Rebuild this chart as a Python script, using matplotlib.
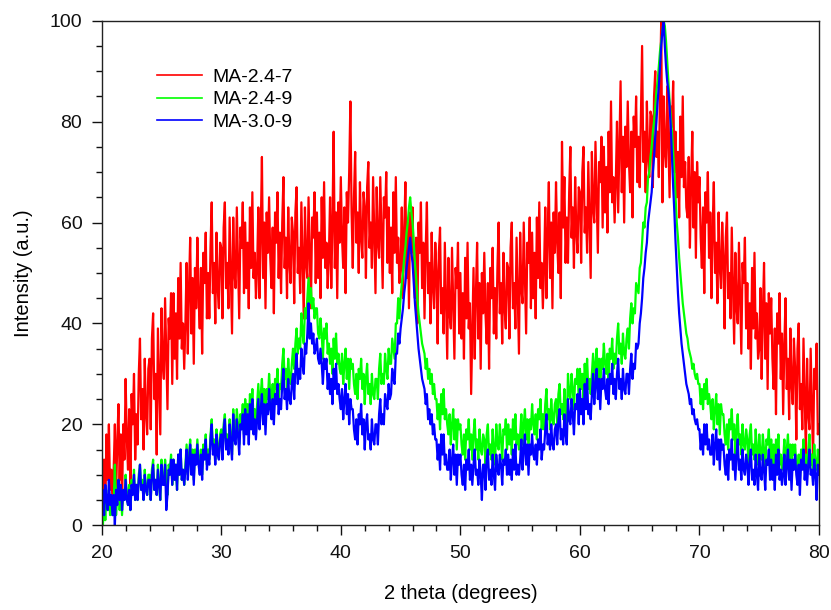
import numpy as np
import matplotlib
matplotlib.use('Agg')
import matplotlib.pyplot as plt
from matplotlib.ticker import MultipleLocator

plt.rcParams['font.family'] = ['Liberation Sans', 'DejaVu Sans']

# 2 theta grid, 0.1 deg step
two_theta = np.linspace(20, 80, 601)

labels = ['MA-2.4-7', 'MA-2.4-9', 'MA-3.0-9']
colors = ['#ff0000', '#00ff00', '#0000ff']

# intensities (one row per degree, 10 points each)
ma_24_7 = [
    15, 6, 13, 3, 18, 9, 20, 7, 11, 5,
    11, 20, 6, 16, 24, 9, 18, 4, 20, 13,
    29, 17, 11, 23, 8, 26, 20, 30, 13, 22,
    16, 30, 37, 21, 27, 15, 33, 22, 18, 31,
    33, 19, 37, 42, 25, 30, 14, 39, 28, 18,
    43, 32, 29, 45, 34, 23, 41, 37, 46, 28,
    46, 33, 42, 29, 49, 37, 52, 35, 40, 31,
    40, 52, 34, 47, 57, 38, 49, 32, 51, 43,
    57, 45, 39, 51, 34, 54, 48, 58, 41, 50,
    41, 55, 64, 46, 52, 40, 58, 47, 43, 56,
    55, 41, 59, 64, 47, 52, 43, 61, 50, 38,
    61, 50, 47, 63, 52, 41, 59, 55, 64, 46,
    60, 47, 56, 43, 63, 51, 66, 49, 54, 45,
    51, 63, 45, 58, 73, 49, 60, 43, 62, 54,
    65, 53, 47, 59, 42, 62, 56, 66, 49, 58,
    46, 60, 69, 51, 57, 45, 63, 52, 48, 61,
    58, 44, 62, 67, 50, 55, 46, 64, 53, 41,
    63, 52, 49, 65, 54, 43, 61, 57, 66, 48,
    62, 49, 58, 45, 65, 53, 68, 51, 56, 47,
    53, 65, 47, 60, 78, 51, 62, 45, 64, 56,
    69, 57, 51, 63, 46, 66, 60, 70, 84, 62,
    51, 65, 74, 56, 62, 50, 68, 57, 53, 66,
    63, 49, 67, 72, 55, 60, 51, 69, 58, 46,
    67, 56, 53, 69, 58, 47, 65, 61, 70, 52,
    63, 50, 59, 46, 66, 54, 69, 52, 57, 48,
    51, 63, 45, 58, 68, 49, 60, 43, 62, 54,
    63, 51, 45, 57, 40, 60, 54, 64, 47, 56,
    41, 55, 64, 46, 52, 40, 58, 47, 43, 56,
    50, 36, 54, 59, 42, 47, 38, 56, 45, 33,
    53, 42, 39, 55, 44, 33, 51, 47, 56, 38,
    50, 37, 46, 33, 53, 41, 56, 39, 44, 26,
    39, 51, 33, 46, 56, 37, 48, 31, 50, 42,
    54, 42, 36, 48, 31, 51, 45, 55, 38, 47,
    37, 51, 60, 42, 48, 36, 54, 43, 39, 52,
    51, 37, 55, 60, 43, 48, 39, 57, 46, 34,
    58, 47, 44, 60, 49, 38, 56, 52, 61, 43,
    58, 45, 54, 41, 61, 49, 64, 47, 52, 43,
    51, 63, 45, 58, 68, 49, 60, 43, 62, 54,
    68, 56, 50, 62, 45, 76, 59, 69, 52, 61,
    52, 66, 75, 57, 63, 51, 69, 58, 54, 67,
    66, 52, 70, 75, 58, 63, 54, 72, 61, 49,
    74, 63, 60, 76, 65, 54, 72, 68, 77, 59,
    75, 62, 71, 58, 78, 66, 84, 64, 69, 60,
    68, 80, 62, 75, 88, 66, 77, 60, 79, 71,
    84, 72, 66, 78, 61, 81, 75, 85, 68, 77,
    67, 81, 95, 72, 78, 66, 84, 73, 69, 82,
    81, 67, 85, 90, 73, 78, 69, 87, 100, 64,
    85, 74, 71, 87, 76, 65, 83, 79, 88, 70,
    78, 65, 74, 61, 81, 69, 85, 67, 72, 63,
    61, 73, 55, 68, 78, 59, 70, 53, 72, 64,
    69, 57, 51, 63, 46, 66, 60, 70, 53, 62,
    45, 59, 68, 50, 56, 44, 62, 51, 47, 60,
    53, 39, 57, 62, 45, 50, 41, 59, 48, 36,
    54, 43, 40, 56, 45, 34, 52, 48, 57, 39,
    48, 35, 44, 31, 51, 39, 54, 37, 42, 33,
    35, 47, 29, 42, 52, 33, 44, 27, 46, 38,
    45, 33, 27, 39, 22, 42, 36, 46, 29, 38,
    22, 36, 45, 27, 33, 21, 39, 28, 24, 37,
    31, 17, 35, 40, 23, 28, 19, 37, 26, 14,
    33, 22, 19, 35, 24, 13, 31, 27, 36, 18,
    20,
]

ma_24_9 = [
    2, 0, 5, 1, 6, 3, 7, 2, 4, 2,
    4, 12, 2, 6, 9, 3, 7, 2, 7, 5,
    10, 6, 4, 8, 3, 9, 7, 11, 5, 8,
    5, 10, 12, 7, 9, 5, 11, 7, 6, 10,
    10, 5, 11, 13, 7, 9, 6, 12, 8, 5,
    13, 9, 8, 13, 10, 6, 12, 11, 14, 8,
    13, 9, 12, 7, 14, 10, 15, 9, 11, 8,
    12, 16, 10, 14, 17, 11, 15, 9, 15, 13,
    17, 13, 11, 15, 10, 16, 14, 18, 12, 15,
    13, 18, 21, 15, 17, 13, 19, 15, 14, 18,
    19, 14, 20, 22, 16, 18, 15, 21, 17, 14,
    23, 19, 18, 23, 20, 16, 22, 21, 24, 18,
    25, 21, 24, 19, 26, 22, 27, 21, 23, 20,
    24, 28, 22, 26, 29, 23, 27, 21, 27, 25,
    30, 26, 24, 28, 23, 29, 27, 31, 25, 28,
    27, 32, 35, 29, 31, 27, 33, 29, 28, 32,
    35, 31, 36, 39, 34, 37, 35, 42, 38, 36,
    43, 41, 45, 49, 44, 47, 43, 45, 41, 43,
    43, 38, 37, 41, 38, 33, 39, 37, 40, 34,
    36, 32, 35, 30, 37, 33, 38, 32, 34, 31,
    30, 34, 28, 32, 35, 29, 33, 27, 33, 31,
    32, 28, 26, 30, 25, 31, 29, 33, 27, 30,
    24, 29, 32, 26, 28, 24, 30, 26, 25, 29,
    29, 25, 31, 34, 28, 30, 28, 34, 31, 29,
    35, 32, 32, 37, 35, 33, 40, 40, 45, 41,
    45, 48, 50, 53, 55, 58, 60, 63, 65, 62,
    60, 56, 52, 49, 45, 42, 40, 38, 36, 35,
    34, 31, 33, 29, 31, 28, 30, 26, 28, 25,
    25, 21, 24, 19, 26, 22, 27, 21, 23, 20,
    18, 22, 16, 20, 23, 17, 21, 15, 21, 19,
    20, 16, 14, 18, 13, 19, 17, 21, 15, 18,
    13, 18, 21, 15, 17, 13, 19, 15, 14, 18,
    17, 12, 18, 20, 14, 16, 13, 19, 15, 12,
    20, 16, 15, 20, 17, 13, 19, 18, 21, 15,
    20, 16, 19, 14, 21, 17, 22, 16, 18, 15,
    18, 22, 16, 20, 23, 17, 21, 15, 21, 19,
    24, 20, 18, 22, 17, 23, 21, 25, 19, 22,
    19, 24, 27, 21, 23, 19, 25, 21, 20, 24,
    25, 20, 26, 28, 22, 24, 21, 27, 23, 20,
    30, 26, 25, 30, 27, 23, 29, 28, 31, 25,
    31, 27, 30, 25, 32, 28, 33, 27, 29, 26,
    30, 34, 28, 32, 35, 29, 33, 27, 33, 31,
    36, 32, 30, 34, 29, 35, 33, 37, 31, 34,
    32, 37, 40, 34, 36, 32, 38, 34, 33, 37,
    39, 35, 41, 44, 40, 43, 42, 48, 47, 46,
    51, 52, 56, 60, 59, 63, 64, 69, 70, 73,
    75, 78, 80, 83, 86, 88, 91, 94, 96, 98,
    100, 99, 96, 92, 88, 84, 81, 78, 74, 70,
    65, 60, 57, 53, 50, 47, 44, 42, 40, 38,
    37, 35, 34, 33, 31, 32, 30, 29, 30, 28,
    28, 24, 27, 23, 28, 25, 29, 24, 26, 24,
    21, 25, 19, 23, 26, 20, 24, 18, 24, 22,
    22, 18, 16, 20, 15, 21, 19, 23, 17, 20,
    14, 19, 22, 16, 18, 14, 20, 16, 15, 19,
    17, 12, 18, 20, 14, 16, 13, 19, 15, 12,
    18, 14, 13, 18, 15, 11, 17, 16, 19, 13,
    17, 12, 16, 11, 17, 13, 18, 12, 14, 11,
    13, 17, 11, 15, 18, 12, 16, 10, 16, 14,
    16, 12, 10, 14, 9, 15, 13, 17, 11, 14,
    10, 15, 18, 12, 14, 10, 16, 12, 11, 15,
    12,
]

ma_30_9 = [
    4, 7, 2, 8, 5, 3, 9, 4, 6, 2,
    6, 0, 7, 4, 9, 5, 8, 3, 7, 5,
    9, 5, 4, 7, 3, 8, 6, 10, 5, 8,
    5, 9, 12, 7, 8, 5, 10, 7, 6, 9,
    9, 5, 10, 12, 7, 9, 6, 11, 8, 5,
    12, 8, 8, 12, 3, 6, 11, 10, 13, 8,
    13, 9, 12, 7, 14, 10, 15, 9, 11, 8,
    11, 15, 9, 13, 16, 10, 14, 8, 14, 12,
    16, 12, 10, 14, 9, 15, 13, 17, 11, 14,
    12, 17, 20, 14, 16, 12, 18, 14, 13, 17,
    18, 13, 19, 21, 15, 17, 14, 20, 16, 13,
    22, 17, 16, 21, 18, 14, 20, 19, 22, 16,
    23, 18, 22, 16, 24, 19, 25, 18, 21, 17,
    21, 25, 19, 23, 26, 20, 24, 18, 24, 22,
    27, 23, 21, 25, 20, 26, 24, 28, 22, 25,
    23, 28, 31, 25, 27, 23, 29, 25, 24, 28,
    30, 25, 31, 34, 28, 31, 29, 35, 32, 30,
    36, 34, 38, 44, 37, 40, 36, 38, 34, 35,
    37, 33, 32, 35, 32, 28, 33, 31, 33, 27,
    30, 26, 29, 24, 31, 27, 32, 26, 28, 25,
    23, 27, 21, 25, 28, 22, 26, 20, 25, 23,
    23, 19, 17, 21, 16, 22, 20, 24, 18, 21,
    15, 20, 22, 17, 18, 15, 21, 17, 16, 20,
    20, 16, 22, 25, 20, 22, 20, 26, 24, 23,
    28, 25, 26, 31, 29, 28, 34, 34, 38, 36,
    39, 41, 43, 46, 48, 51, 53, 55, 57, 54,
    52, 48, 44, 41, 38, 35, 33, 31, 29, 28,
    27, 24, 26, 21, 23, 20, 22, 18, 20, 17,
    17, 13, 16, 11, 18, 14, 18, 12, 14, 11,
    11, 15, 9, 13, 16, 10, 14, 8, 14, 12,
    14, 10, 8, 12, 7, 13, 11, 15, 9, 12,
    8, 12, 15, 10, 11, 8, 13, 10, 5, 12,
    12, 7, 13, 15, 9, 11, 8, 14, 10, 7,
    14, 11, 10, 14, 12, 8, 13, 12, 15, 10,
    14, 10, 13, 9, 15, 11, 16, 10, 12, 10,
    13, 17, 11, 15, 18, 12, 16, 10, 16, 14,
    18, 14, 13, 16, 12, 17, 15, 19, 13, 16,
    15, 19, 22, 16, 18, 15, 20, 16, 15, 19,
    20, 16, 21, 23, 17, 19, 16, 22, 18, 16,
    25, 21, 20, 25, 22, 18, 24, 23, 26, 20,
    27, 22, 25, 20, 28, 23, 29, 22, 24, 21,
    26, 30, 24, 28, 31, 25, 29, 23, 29, 27,
    31, 27, 25, 29, 24, 30, 28, 32, 26, 29,
    25, 30, 33, 27, 29, 25, 31, 27, 26, 30,
    30, 26, 31, 34, 29, 32, 31, 36, 35, 36,
    40, 42, 45, 49, 51, 54, 56, 60, 62, 64,
    66, 70, 73, 77, 80, 84, 87, 91, 95, 98,
    100, 95, 91, 88, 86, 83, 79, 73, 67, 62,
    56, 51, 46, 42, 39, 36, 34, 32, 30, 28,
    27, 26, 24, 25, 22, 23, 21, 20, 21, 19,
    19, 15, 18, 14, 20, 16, 20, 15, 17, 14,
    14, 18, 12, 16, 19, 13, 17, 11, 17, 15,
    16, 12, 10, 14, 9, 15, 13, 17, 11, 14,
    9, 14, 17, 11, 13, 9, 15, 11, 10, 14,
    12, 8, 13, 15, 9, 11, 8, 14, 10, 7,
    14, 10, 9, 14, 11, 7, 13, 12, 15, 9,
    13, 9, 12, 7, 14, 10, 15, 9, 11, 8,
    10, 14, 8, 12, 15, 9, 13, 7, 13, 11,
    14, 10, 8, 12, 6, 13, 11, 15, 9, 12,
    8, 12, 15, 10, 11, 8, 13, 10, 5, 12,
    10,
]

fig = plt.figure(figsize=(8.31, 6.10), dpi=100)
ax = fig.add_axes([0.1224, 0.139, 0.8632, 0.827])

for y, c, lab in zip([ma_24_7, ma_24_9, ma_30_9], colors, labels):
    ax.plot(two_theta, y, color=c, lw=1.6, label=lab)

ax.set_xlim(20, 80)
ax.set_ylim(0, 100)
ax.xaxis.set_major_locator(MultipleLocator(10))
ax.xaxis.set_minor_locator(MultipleLocator(2))
ax.yaxis.set_major_locator(MultipleLocator(20))
ax.yaxis.set_minor_locator(MultipleLocator(5))
ax.tick_params(which='both', direction='out', top=False, right=False,
               labelsize=14, width=1, colors='#111111', pad=7)
ax.tick_params(which='major', length=7)
ax.tick_params(which='minor', length=4)
for s in ax.spines.values():
    s.set_linewidth(1)
    s.set_color('#222222')

ax.set_xlabel('2 theta (degrees)', fontsize=14.5, labelpad=16)
ax.set_ylabel('Intensity (a.u.)', fontsize=14.5, labelpad=12)

leg = ax.legend(loc='upper left', bbox_to_anchor=(0.064, 0.925), frameon=False,
                fontsize=14, handlelength=2.3, handletextpad=0.55,
                labelspacing=0.25, borderpad=0)
for h in leg.get_lines():
    h.set_linewidth(1.2)

fig.savefig('out.png', dpi=100)
